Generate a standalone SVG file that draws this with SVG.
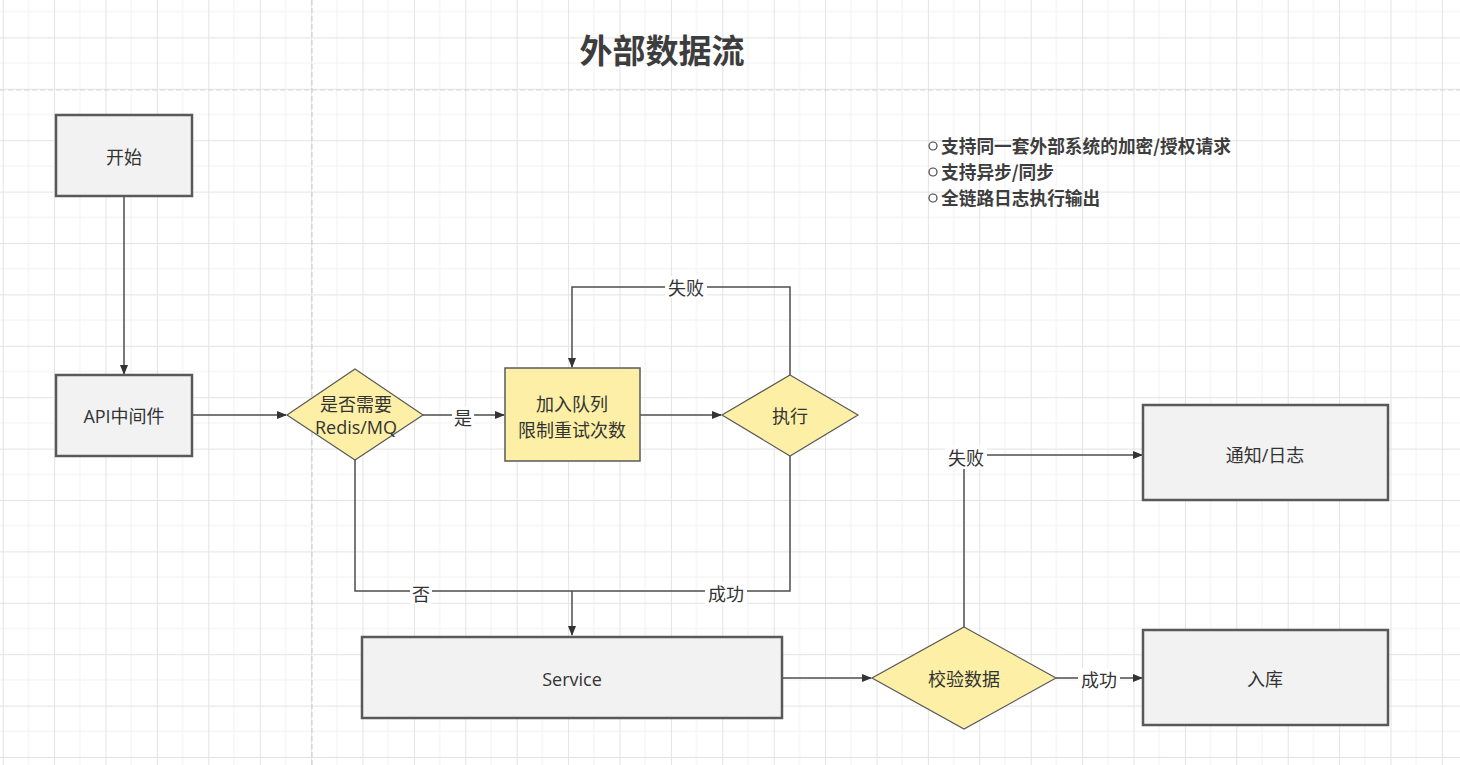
<svg xmlns="http://www.w3.org/2000/svg" width="1460" height="765" viewBox="0 0 1460 765">
<defs>
<pattern id="grid" patternUnits="userSpaceOnUse" x="2.7" y="88.8" width="51.4" height="51.4">
<line x1="25.7" y1="0" x2="25.7" y2="51.4" stroke="#f1f1f1" stroke-width="1"/>
<line x1="0" y1="25.7" x2="51.4" y2="25.7" stroke="#f1f1f1" stroke-width="1"/>
<line x1="0.5" y1="0" x2="0.5" y2="51.4" stroke="#e3e3e3" stroke-width="1"/>
<line x1="0" y1="0.5" x2="51.4" y2="0.5" stroke="#e3e3e3" stroke-width="1"/>
</pattern>
<marker id="arr" markerWidth="10" markerHeight="10" refX="9" refY="5" orient="auto" markerUnits="userSpaceOnUse">
<path d="M0,1 L10,5 L0,9 Z" fill="#333"/>
</marker>
<style>
.box{fill:#f2f2f2;stroke:#595959;stroke-width:2.5}
.ybox{fill:#fdf0a6;stroke:#595959;stroke-width:1.5}
.dia{fill:#fdf0a6;stroke:#595959;stroke-width:1.2}
.t{font-family:"Open Sans","Noto Sans CJK SC",sans-serif;font-size:18px;fill:#333;text-anchor:middle;dominant-baseline:central}
.lbl{font-family:"Noto Sans CJK SC",sans-serif;font-size:18px;fill:#333;text-anchor:middle;dominant-baseline:central}
.c{fill:none;stroke:#4d4d4d;stroke-width:1.5}
.bul{font-family:"Noto Sans CJK SC",sans-serif;font-size:17.7px;font-weight:bold;fill:#3d3d3d}
</style>
</defs>
<rect width="1460" height="765" fill="#ffffff"/>
<rect width="1460" height="765" fill="url(#grid)"/>
<line x1="312" y1="0" x2="312" y2="765" stroke="#c9c9c9" stroke-width="1" stroke-dasharray="5 3"/>
<line x1="0" y1="90" x2="1460" y2="90" stroke="#d6d6d6" stroke-width="1.2" stroke-dasharray="5 3"/>

<text x="662" y="49" font-family="Noto Sans CJK SC,sans-serif" font-size="33" font-weight="bold" fill="#3d3d3d" text-anchor="middle" dominant-baseline="central">外部数据流</text>

<g id="notes">
<circle cx="933" cy="146" r="4" fill="none" stroke="#444" stroke-width="1.2"/>
<circle cx="933" cy="172" r="4" fill="none" stroke="#444" stroke-width="1.2"/>
<circle cx="933" cy="198" r="4" fill="none" stroke="#444" stroke-width="1.2"/>
<text class="bul" x="941" y="153">支持同一套外部系统的加密/授权请求</text>
<text class="bul" x="941" y="179">支持异步/同步</text>
<text class="bul" x="941" y="205">全链路日志执行输出</text>
</g>

<g id="connectors">
<line class="c" x1="124" y1="197" x2="124" y2="374" marker-end="url(#arr)"/>
<line class="c" x1="193" y1="415" x2="286" y2="415" marker-end="url(#arr)"/>
<line class="c" x1="423" y1="415" x2="504" y2="415" marker-end="url(#arr)"/>
<line class="c" x1="640" y1="415" x2="721" y2="415" marker-end="url(#arr)"/>
<polyline class="c" points="790,375 790,287 572,287 572,367" marker-end="url(#arr)"/>
<polyline class="c" points="355,460 355,591 790,591 790,456"/>
<line class="c" x1="572" y1="591" x2="572" y2="635" marker-end="url(#arr)"/>
<line class="c" x1="783" y1="678" x2="871" y2="678" marker-end="url(#arr)"/>
<line class="c" x1="1056" y1="678" x2="1142" y2="678" marker-end="url(#arr)"/>
<polyline class="c" points="964,627 964,455 1142,455" marker-end="url(#arr)"/>
<rect x="665" y="276" width="42" height="22" fill="#ffffff"/>
<text class="lbl" x="686" y="287">失败</text>
<rect x="452" y="406" width="22" height="22" fill="#ffffff"/>
<text class="lbl" x="463" y="417">是</text>
<rect x="410" y="582" width="22" height="22" fill="#ffffff"/>
<text class="lbl" x="421" y="593">否</text>
<rect x="705" y="582" width="42" height="22" fill="#ffffff"/>
<text class="lbl" x="726" y="593">成功</text>
<rect x="945" y="445" width="42" height="24" fill="#ffffff"/>
<text class="lbl" x="966" y="457">失败</text>
<rect x="1078" y="668" width="42" height="22" fill="#ffffff"/>
<text class="lbl" x="1099" y="679">成功</text>
</g>

<g id="start">
<rect class="box" x="56" y="115" width="136" height="81"/>
<text class="t" x="124" y="157">开始</text>
</g>
<g id="api">
<rect class="box" x="56" y="375" width="136" height="81"/>
<text class="t" x="124" y="416">API中间件</text>
</g>
<g id="need-mq">
<polygon class="dia" points="355,369 423,415 355,460 287,415"/>
<text class="t" x="356" y="404">是否需要</text>
<text class="t" x="356" y="427">Redis/MQ</text>
</g>
<g id="queue">
<rect class="ybox" x="505" y="368" width="135" height="93"/>
<text class="t" x="572" y="404">加入队列</text>
<text class="t" x="572" y="430">限制重试次数</text>
</g>
<g id="exec">
<polygon class="dia" points="790,375 858,415 790,456 722,415"/>
<text class="t" x="790" y="416">执行</text>
</g>
<g id="service">
<rect class="box" x="362" y="637" width="420" height="81"/>
<text class="t" x="572" y="679">Service</text>
</g>
<g id="validate">
<polygon class="dia" points="964,627 1056,678 964,729 872,678"/>
<text class="t" x="964" y="679">校验数据</text>
</g>
<g id="notify">
<rect class="box" x="1143" y="405" width="245" height="95"/>
<text class="t" x="1265" y="455">通知/日志</text>
</g>
<g id="store">
<rect class="box" x="1143" y="630" width="245" height="95"/>
<text class="t" x="1265" y="679">入库</text>
</g>
</svg>
